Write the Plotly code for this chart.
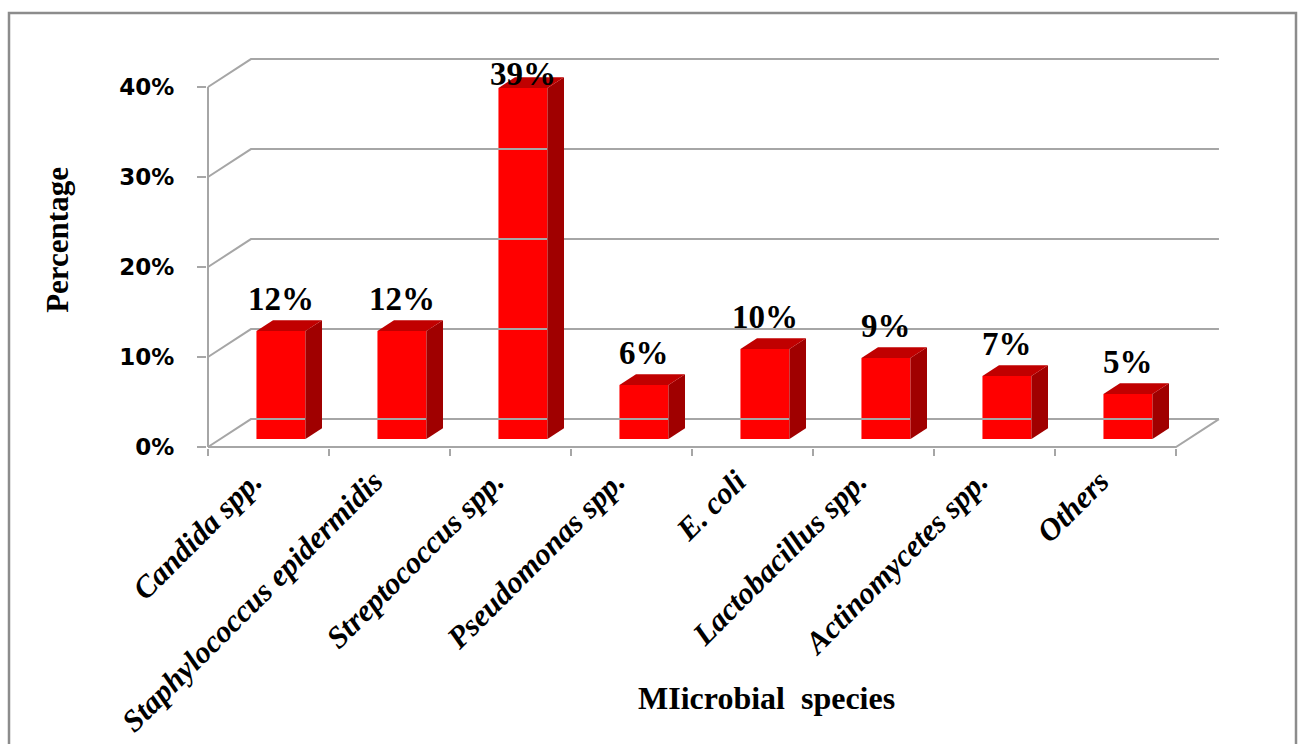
import plotly.graph_objects as go

categories = ["Candida spp.", "Staphylococcus epidermidis", "Streptococcus spp.",
              "Pseudomonas spp.", "E. coli", "Lactobacillus spp.",
              "Actinomycetes spp.", "Others"]
values = [12, 12, 39, 6, 10, 9, 7, 5]
y_ticks = [0, 10, 20, 30, 40]
y_tick_labels = ["0%", "10%", "20%", "30%", "40%"]
value_labels = [f"{v}%" for v in values]

# pseudo-3D geometry (in data units)
DX = 0.355   # depth offset along x (category units)
DY = 3.1     # depth offset along y (percent units)
D0 = 0.29    # bar front depth fraction
DD = 0.385   # bar depth fraction
BW = 0.405   # bar width

GRID = "#a6a6a6"
FRONT = "#ff0000"
SIDE = "#a00000"
TOP = "#c00000"

n = len(categories)
fig = go.Figure()

def line(xs, ys, color=GRID, width=2):
    fig.add_trace(go.Scatter(x=xs, y=ys, mode="lines",
                             line=dict(color=color, width=width),
                             hoverinfo="skip", showlegend=False))

# back wall gridlines + side wall diagonals
for t in y_ticks:
    line([0, DX, n + DX], [t, t + DY, t + DY])
# floor front edge + right diagonal
line([0, n, n + DX], [0, 0, DY])
# front vertical axis line
line([0, 0], [0, max(y_ticks)])

# bars
centers = [i + 0.5 + D0 * DX for i in range(n)]
base = D0 * DY
fig.add_trace(go.Bar(x=centers, y=values, base=[base] * n, width=BW,
                     marker=dict(color=FRONT, line=dict(width=0)),
                     hoverinfo="skip", showlegend=False))
ddx, ddy = DD * DX, DD * DY
for c, v in zip(centers, values):
    xl, xr = c - BW / 2, c + BW / 2
    top = base + v
    # side face
    fig.add_trace(go.Scatter(x=[xr, xr + ddx, xr + ddx, xr, xr],
                             y=[base, base + ddy, top + ddy, top, base],
                             mode="lines", fill="toself", fillcolor=SIDE,
                             line=dict(width=0, color=SIDE),
                             hoverinfo="skip", showlegend=False))
    # top face
    fig.add_trace(go.Scatter(x=[xl, xr, xr + ddx, xl + ddx, xl],
                             y=[top, top, top + ddy, top + ddy, top],
                             mode="lines", fill="toself", fillcolor=TOP,
                             line=dict(width=0, color=TOP),
                             hoverinfo="skip", showlegend=False))

LABEL_SIZE = 33
label_h = LABEL_SIZE * 1.25 / 9   # label height in percent units
ceiling = max(y_ticks) + DY       # labels kept inside the back wall
annotations = []
for c, v, lab in zip(centers, values, value_labels):
    yb = base + v + ddy
    if yb + label_h > ceiling:
        pos = dict(y=ceiling, yanchor="top", yshift=5)
    else:
        pos = dict(y=yb, yanchor="bottom", yshift=1)
    annotations.append(dict(x=c, xref="x", yref="y",
                            text=lab, showarrow=False, xanchor="center",
                            font=dict(family="Liberation Serif", size=LABEL_SIZE,
                                      color="black", weight="bold"), **pos))

annotations.append(dict(x=-0.1468, y=0.531, xref="paper", yref="paper",
                        text="Percentage", textangle=-90, showarrow=False,
                        xanchor="center", yanchor="middle",
                        font=dict(family="Liberation Serif", size=31,
                                  color="black", weight="bold")))
annotations.append(dict(x=0.5517, y=-0.638, xref="paper", yref="paper",
                        text="MIicrobial\u00a0 species", showarrow=False,
                        xanchor="center", yanchor="middle",
                        font=dict(family="Liberation Serif", size=32,
                                  color="black", weight="bold")))

L, R, T, B = 207, 76, 56, 296
W, H = 1298, 744
pw, ph = W - L - R, H - T - B
xmin, ymin = -1 / 121, -1 / 9
xmax = xmin + pw / 121
ymax = ymin + ph / 9

fig.update_layout(
    width=W, height=H,
    margin=dict(l=L, r=R, t=T, b=B, autoexpand=False),
    paper_bgcolor="white", plot_bgcolor="white",
    barmode="overlay",
    annotations=annotations,
    shapes=[dict(type="rect", xref="paper", yref="paper",
                 x0=(9 - L) / pw, x1=(1296 - L) / pw,
                 y0=-1.2, y1=(H - B - 13) / ph,
                 line=dict(color="#8c8c8c", width=2.5), layer="below")],
    xaxis=dict(range=[xmin, xmax], showgrid=False, zeroline=False,
               showline=False, automargin=False,
               tickmode="array", tickvals=[i + 0.37 for i in range(n)],
               ticktext=categories, tickangle=-45, ticks="", ticklen=0,
               ticklabelstandoff=8,
               tickfont=dict(family="Liberation Serif", size=31,
                             color="black", weight="bold", style="italic"),
               minor=dict(tickmode="array", tickvals=list(range(n + 1)),
                          ticks="outside", ticklen=7, tickcolor=GRID,
                          tickwidth=2, showgrid=False)),
    yaxis=dict(range=[ymin, ymax], showgrid=False, zeroline=False,
               showline=False, automargin=False,
               tickmode="array", tickvals=y_ticks, ticktext=y_tick_labels,
               ticks="outside", ticklen=9, tickcolor=GRID, tickwidth=2,
               ticklabelstandoff=18,
               tickfont=dict(family="DejaVu Sans", size=23,
                             color="black", weight="bold")),
)

fig.write_html("out.html",
               config={"displayModeBar": False},
               post_script="document.body.style.margin='0';"
                           "document.body.style.padding='0';"
                           "document.body.style.overflow='hidden';")
